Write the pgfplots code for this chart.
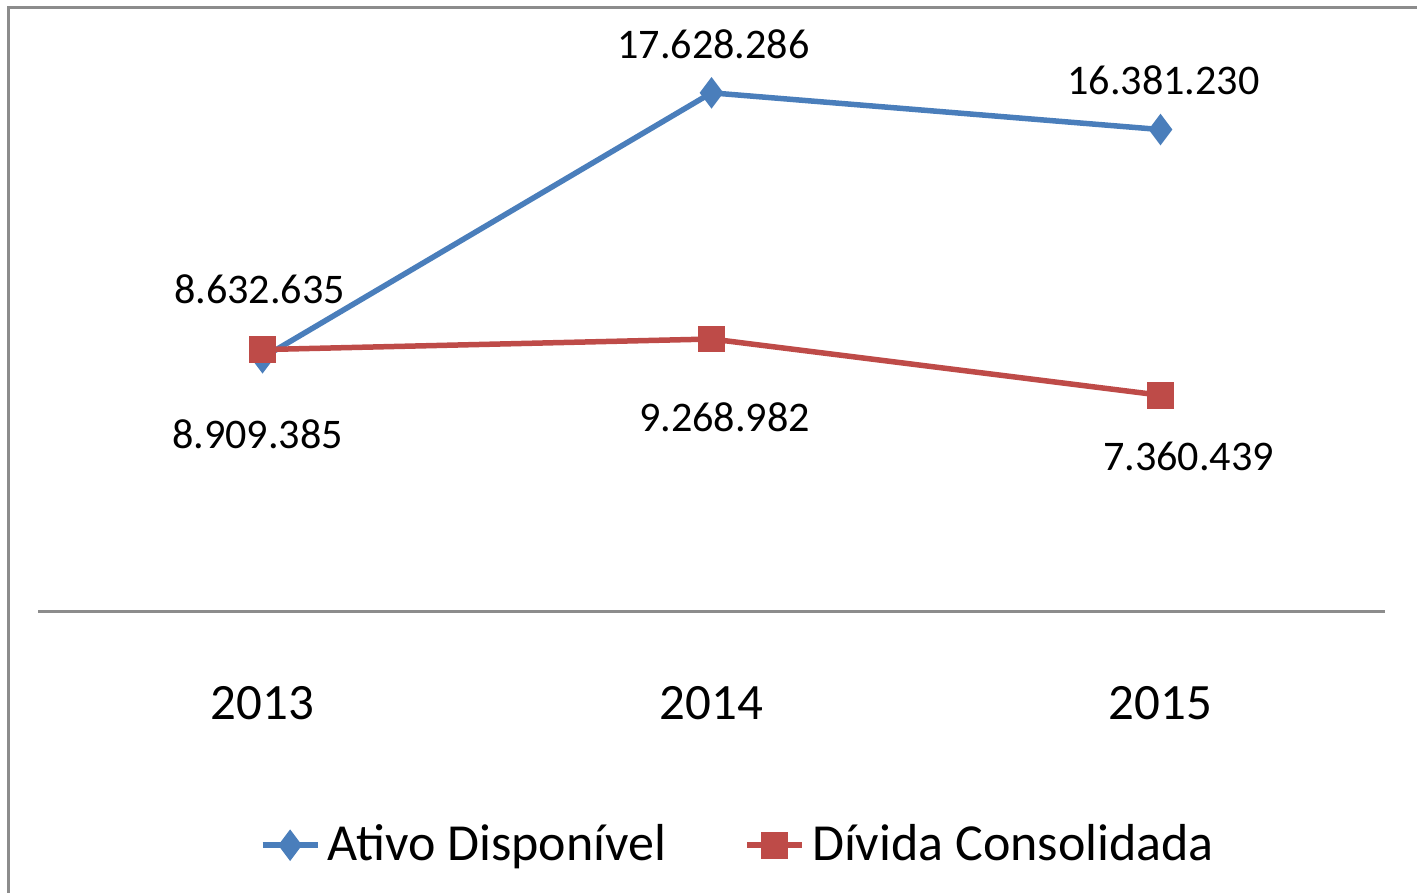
\documentclass[border=0pt]{standalone}
\usepackage{pgfplots}
\pgfplotsset{compat=1.18}
\usepackage{fontspec}
\setmainfont{Carlito}
\definecolor{azul}{HTML}{4A7EBB}
\definecolor{verm}{HTML}{BE4B48}
\definecolor{eixo}{HTML}{8C8C8C}

\pgfplotstableread{
x y label dx dy
0 8632635 8.632.635 -3 69
1 17628286 17.628.286 2 49
2 16381230 16.381.230 3 49
}\ativo
\pgfplotstableread{
x y label dx dy
0 8909385 8.909.385 -5 -85
1 9268982 9.268.982 13 -78
2 7360439 7.360.439 28 -61
}\divida

\begin{document}
\begin{tikzpicture}
\begin{axis}[
    at={(0,0)}, anchor=south west,
    scale only axis,
    width=13.47cm, height=5.89cm,
    xmin=-0.5, xmax=2.5, ymin=0, ymax=20000000,
    axis x line*=bottom, axis y line=none,
    x axis line style={-, eixo, line width=0.03cm},
    xtick={0,1,2}, xticklabels={2013,2014,2015},
    ytick=\empty,
    major tick length=0pt,
    xticklabel style={anchor=center, yshift=-0.91cm, font=\fontsize{14.5}{17}\selectfont},
    clip=false,
    nodes near coords,
    point meta=explicit symbolic,
    visualization depends on={\thisrow{dx} \as \dx},
    visualization depends on={\thisrow{dy} \as \dy},
    nodes near coords style={anchor=center, text=black, font=\fontsize{12}{14}\selectfont,
        xshift=\dx*0.01cm, yshift=\dy*0.01cm},
    legend style={at={(0.5215,-0.396)}, anchor=center, draw=none, fill=none,
        legend columns=2, font=\fontsize{14.8}{17}\selectfont,
        /tikz/every even column/.append style={column sep=0.71cm}},
    legend image code/.code={\draw[mark repeat=2,mark phase=2] plot coordinates {(0cm,0cm) (0.275cm,0cm) (0.55cm,0cm)};},
]
\addplot[azul, line width=0.055cm, mark=diamond*, mark size=3.2pt, mark options={solid}]
    table[x=x, y=y, meta=label] {\ativo};
\addlegendentry{Ativo Disponível}
\addplot[verm, line width=0.055cm, mark=square*, mark size=3pt, mark options={solid}]
    table[x=x, y=y, meta=label] {\divida};
\addlegendentry{Dívida Consolidada}
\end{axis}
\draw[eixo, line width=0.03cm] (-0.30,-2.90) -- (-0.30,6.04) -- (13.90,6.04);
\pgfresetboundingbox
\path (-0.38,-2.81) rectangle (13.79,6.12);
\end{tikzpicture}
\end{document}
